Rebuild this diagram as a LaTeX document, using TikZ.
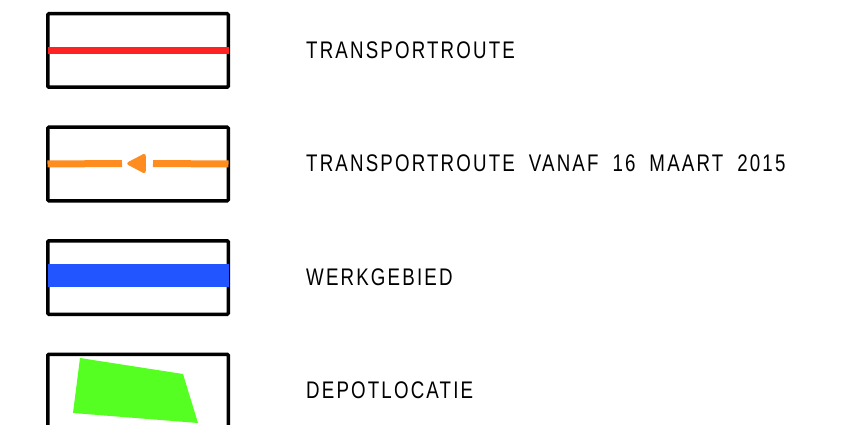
\documentclass[tikz,border=0pt]{standalone}
\usepackage{fontspec}
\setmainfont[FakeStretch=0.78,LetterSpace=9,WordSpace=1.9]{Liberation Sans}
\usetikzlibrary{positioning}
\definecolor{lgred}{HTML}{FF2222}
\definecolor{lgorange}{HTML}{FF8C1E}
\definecolor{lgblue}{HTML}{2255FF}
\definecolor{lggreen}{HTML}{55FF22}

\begin{document}
\begin{tikzpicture}[
  x=1pt, y=-1pt,
  key/.style={draw=black, line width=3.5pt, rounded corners=1pt,
              minimum width=180.5pt, minimum height=73.5pt, inner sep=0pt},
  txt/.style={anchor=west, inner sep=0pt, font=\fontsize{24}{24}\selectfont},
  route/.style={line width=7pt},
]
\useasboundingbox (0,0) rectangle (841,425);
\clip (0,0) rectangle (841,425);

% ---------------- symbol boxes -------------------------------------
\node[key] (k1) at (138, 50.5) {};
\node[key] (k2) at (138,164)   {};
\node[key] (k3) at (138,277.5) {};
\node[key] (k4) at (138,391)   {};

% ---------------- symbols ------------------------------------------
\draw[route, lgred] ([xshift=1.5pt]k1.west) -- ([xshift=-1.5pt]k1.east);

\coordinate (tip) at (127,163.5);
\draw[route, lgorange] ([xshift=1.5pt]k2.west) -- (122,163.5);
\draw[route, lgorange] (153,163.5) -- ([xshift=-1.5pt]k2.east);
\fill[lgorange, draw=lgorange, line width=1.5pt, line join=round,
      rounded corners=2pt] (tip) -- (145,154) -- (145,173) -- cycle;

\fill[lgblue] (48,264) rectangle (228.5,287);

\fill[lggreen] (80,358) -- (183,374) -- (198,423) -- (73,413) -- cycle;

% ---------------- labels -------------------------------------------
\node[txt] (t1) at (306, 50)  {TRANSPORTROUTE};
\node[txt] (t2) at (306,163)  {TRANSPORTROUTE VANAF 16 MAART 2015};
\node[txt] (t3) at (306,277)  {WERKGEBIED};
\node[txt] (t4) at (306,390)  {DEPOTLOCATIE};

\end{tikzpicture}
\end{document}
